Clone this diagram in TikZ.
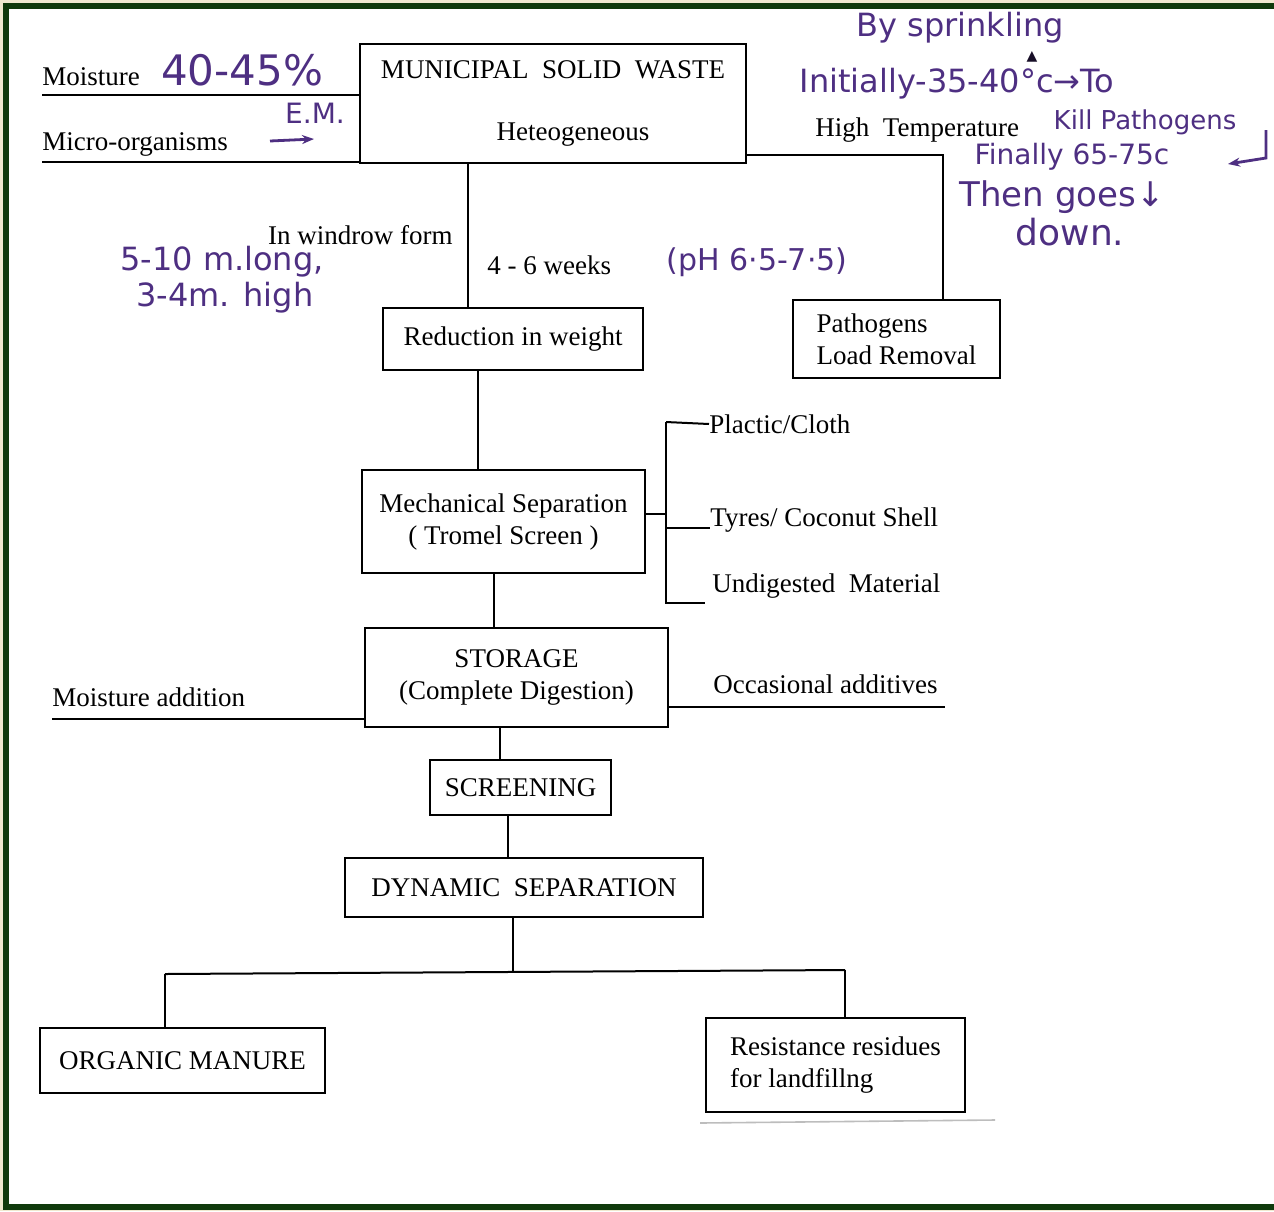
\documentclass[tikz,border=0pt]{standalone}
\usepackage{fontspec}
\setmainfont{Liberation Serif}
\newfontfamily\hwfont{DejaVu Sans}
\usepackage{xcolor}
\usepackage{tikz}
\usetikzlibrary{arrows.meta, positioning, calc}
\definecolor{frgreen}{HTML}{0F3A0C}
\definecolor{frcream}{HTML}{EFE9CF}
\definecolor{inkpurple}{HTML}{4E2F82}
\definecolor{scangray}{HTML}{BDBDBD}

\begin{document}
\begin{tikzpicture}[x=0.5pt, y=-0.5pt,
  box/.style={rectangle, draw=black, line width=1.2pt, fill=white, inner sep=2pt,
    align=center, font=\fontsize{13.5}{16}\selectfont},
  lbl/.style={font=\fontsize{13.5}{16}\selectfont, inner sep=0pt},
  hw/.style={font=\hwfont\fontsize{#1}{#1}\selectfont, text=inkpurple, inner sep=0pt},
  hw/.default=16,
  wire/.style={line width=1pt},
  ink/.style={draw=inkpurple, line width=1.4pt, -{Stealth[length=6pt]}},
]
  % page and frame (right edge cut off)
  \useasboundingbox (0,0) rectangle (1274,1211);
  \fill[frcream] (0,0) rectangle (1274,1211);
  \fill[white] (6,6) rectangle (1274,1207);
  \draw[frgreen, line width=3pt] (1274,6) -- (6,6) -- (6,1207) -- (1274,1207);

  % boxes
  \node[box, minimum width=193pt, minimum height=59.5pt] (msw) at (553,103.5)
    {MUNICIPAL\ \ SOLID\ \ WASTE\\[15pt]\hspace*{20pt}Heteogeneous};
  \node[box, minimum width=130pt, minimum height=31pt] (reduce) at (513,339) {Reduction in weight};
  \node[box, minimum width=103.5pt, minimum height=39pt, align=left] (patho) at (896.5,339)
    {Pathogens\\Load Removal};
  \node[box, minimum width=141.5pt, minimum height=51.5pt] (mech) at (503.5,521.5)
    {Mechanical Separation\\( Tromel Screen )};
  \node[box, minimum width=151.5pt, minimum height=49.5pt] (store) at (516.5,677.5)
    {STORAGE\\(Complete Digestion)};
  \node[box, minimum width=90.5pt, minimum height=27.5pt] (screen) at (520.5,787.5) {SCREENING};
  \node[box, minimum width=179pt, minimum height=29.5pt] (dyn) at (524,887.5) {DYNAMIC\ \ SEPARATION};
  \node[box, minimum width=142.5pt, minimum height=32.5pt] (organic) at (182.5,1060.5) {ORGANIC MANURE};
  \node[box, minimum width=129.5pt, minimum height=47pt, align=left] (resid) at (835.5,1065)
    {Resistance residues\\for landfillng};

  % printed labels
  \node[lbl, anchor=base west] (moist) at (42,85) {Moisture};
  \node[lbl, anchor=base west] (micro) at (42,150) {Micro-organisms};
  \node[lbl, anchor=base east] (windrow) at (453,244) {In windrow form};
  \node[lbl, anchor=base west] (weeks) at (487,274) {4 - 6 weeks};
  \node[lbl, anchor=base west] (hitemp) at (815,136) {High\ \ Temperature};
  \node[lbl, anchor=west] (plastic) at (709,424) {Plactic/Cloth};
  \node[lbl, anchor=west] (tyres) at (710,520) {Tyres/ Coconut Shell};
  \node[lbl, anchor=west] (undig) at (712,586) {Undigested\ \ Material};
  \node[lbl, anchor=base west] (madd) at (52,706) {Moisture addition};
  \node[lbl, anchor=base west] (occas) at (713,693) {Occasional\ additives};

  % connectors
  \coordinate (trA) at (468,0);
  \coordinate (trB) at (478,0);
  \coordinate (trC) at (494,0);
  \coordinate (trD) at (500,0);
  \coordinate (trE) at (508,0);
  \coordinate (trF) at (513,0);
  \coordinate (hot) at (943,155);
  \coordinate (moistL) at (42,95);
  \coordinate (microL) at (42,162);
  \coordinate (brTop) at (666,422);
  \coordinate (brMid) at (666,514);
  \coordinate (brBot) at (666,603);
  \coordinate (brEnd) at (705,603);
  \coordinate (maL) at (52,719);
  \coordinate (ocR) at (945,707);
  \coordinate (splitL) at (165,974);
  \coordinate (splitR) at (845,970);

  \draw[wire] (moistL) -- (moistL -| msw.west);
  \draw[wire] (microL) -- (microL -| msw.west);
  \draw[wire] (msw.south -| trA) -- (reduce.north -| trA);
  \draw[wire] (msw.east |- hot) -- (hot) -- (patho.north -| hot);
  \draw[wire] (reduce.south -| trB) -- (mech.north -| trB);
  \draw[wire] (mech.east |- brMid) -- (brMid);
  \draw[wire] (brTop) -- (brBot) -- (brEnd);
  \draw[wire] (brTop) -- (plastic.west);
  \draw[wire] (brTop |- 0,528) -- (tyres.west |- 0,528);
  \draw[wire] (mech.south -| trC) -- (store.north -| trC);
  \draw[wire] (maL) -- (maL -| store.west);
  \draw[wire] (store.east |- ocR) -- (ocR);
  \draw[wire] (store.south -| trD) -- (screen.north -| trD);
  \draw[wire] (screen.south -| trE) -- (dyn.north -| trE);
  \draw[wire] (dyn.south -| trF) -- (trF |- 0,972);
  \draw[wire] (splitL) -- (splitR);
  \draw[wire] (splitL) -- (organic.north -| splitL);
  \draw[wire] (splitR) -- (resid.north -| splitR);
  \draw[scangray, line width=0.8pt] (700,1123) -- (995,1120);

  % handwritten notes
  \node[hw=21] (pct) at (242,70) {40-45\%};
  \node[hw=14] (em) at (315,113) {E.M.};
  \coordinate (emA) at (270,141);
  \coordinate (emB) at (314,139);
  \draw[ink] (emA) -- (emB);
  \node[hw=16] (longw) at (222,262) {5-10 m.long,};
  \node[hw=16] (highw) at (225,298) {3-4m. high};
  \node[hw=15] (ph) at (757,262) {(pH 6·5-7·5)};
  \node[hw=16] (sprink) at (960,28) {By sprinkling};
  \node[hw=7, text=black!70!inkpurple] (tri) at (1032,57) {▲};
  \node[hw=16] (init) at (957,84) {Initially-35-40°c→To};
  \node[hw=13] (kill) at (1145,122) {Kill Pathogens};
  \node[hw=14] (final) at (1072,157) {Finally 65-75c};
  \node[hw=17] (then) at (1062,197) {Then goes↓};
  \node[hw=18] (down) at (1070,232) {down.};
  \coordinate (hkA) at (1266,130);
  \coordinate (hkB) at (1266,158);
  \coordinate (hkC) at (1228,164);
  \draw[ink] (hkA) -- (hkB) -- (hkC);
\end{tikzpicture}
\end{document}
